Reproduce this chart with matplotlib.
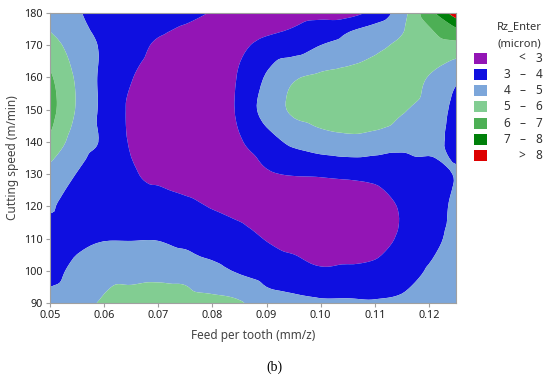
import numpy as np
import matplotlib
matplotlib.use("Agg")
import matplotlib.pyplot as plt
import matplotlib.tri as mtri
from matplotlib.patches import Rectangle

plt.rcParams['font.family'] = ['Noto Sans', 'DejaVu Sans']

# Feed per tooth (mm/z) grid and cutting speed (m/min) grid
feed = [0.050, 0.055, 0.060, 0.065, 0.070, 0.075, 0.080, 0.085,
        0.090, 0.095, 0.100, 0.105, 0.110, 0.115, 0.120, 0.125]
speed = [90, 100, 110, 120, 130, 140, 150, 160, 170, 175, 180]

rz_90  = [4.5, 4.7, 5.1, 5.35, 5.4, 5.35, 5.3, 5.1, 4.4, 4.25, 4.15, 4.15, 4.1, 4.2, 4.55, 4.8]
rz_100 = [3.6, 4.3, 4.7, 4.7, 4.75, 4.7, 4.25, 3.9, 3.6, 3.4, 3.1, 3.15, 3.25, 3.5, 4.1, 4.6]
rz_110 = [3.5, 3.8, 3.95, 3.95, 3.95, 3.7, 3.55, 3.35, 2.95, 2.7, 2.6, 2.55, 2.6, 3.15, 3.6, 4.4]
rz_120 = [4.1, 3.6, 3.5, 3.4, 3.45, 3.2, 2.95, 2.75, 2.5, 2.4, 2.35, 2.3, 2.5, 3.1, 3.45, 4.25]
rz_130 = [4.65, 3.97, 3.5, 3.1, 2.8, 2.6, 2.5, 2.45, 2.9, 3.05, 3.1, 3.2, 3.3, 3.5, 3.6, 4.05]
rz_140 = [5.8, 4.5, 3.86, 2.9, 2.5, 2.3, 2.2, 2.9, 3.6, 4.2, 4.55, 4.7, 4.55, 4.3, 4.3, 3.7]
rz_150 = [6.35, 4.9, 3.75, 2.85, 2.4, 2.2, 2.1, 3.2, 4.4, 5.15, 5.4, 5.6, 5.65, 5.1, 4.6, 3.75]
rz_160 = [6.15, 4.85, 3.75, 3.05, 2.5, 2.3, 2.2, 3.1, 4.1, 4.9, 5.15, 5.3, 5.5, 5.6, 4.95, 4.2]
rz_170 = [5.35, 4.6, 3.83, 3.4, 2.85, 2.6, 2.45, 2.8, 3.3, 3.5, 4.0, 4.3, 4.75, 5.2, 5.6, 5.7]
rz_175 = [4.95, 4.3, 3.7, 3.45, 3.15, 2.9, 2.65, 2.55, 2.8, 3.05, 3.45, 3.85, 4.3, 4.9, 5.9, 6.9]
rz_180 = [4.7, 4.1, 3.65, 3.5, 3.35, 3.25, 2.95, 2.6, 2.7, 2.65, 2.65, 2.6, 3.3, 4.6, 6.6, 8.6]

levels = [0, 3, 4, 5, 6, 7, 8, 20]
legend_left = ["", "3", "4", "5", "6", "7", ""]
legend_mid = ["<", "–", "–", "–", "–", "–", ">"]
legend_right = ["3", "4", "5", "6", "7", "8", "8"]
colors = ["#9315B5", "#0F0FE0", "#7CA6DA", "#82CD92", "#4DAF55", "#00800A", "#DD0000"]

xticks = [0.05, 0.06, 0.07, 0.08, 0.09, 0.10, 0.11, 0.12]
xtick_labels = ["0.05", "0.06", "0.07", "0.08", "0.09", "0.10", "0.11", "0.12"]
yticks = [90, 100, 110, 120, 130, 140, 150, 160, 170, 180]

Z = np.array([rz_90, rz_100, rz_110, rz_120, rz_130, rz_140, rz_150, rz_160,
              rz_170, rz_175, rz_180])
X, Y = np.meshgrid(feed, speed)

# triangulate in normalised coordinates so the library's smooth refiner works well
xs = (X.ravel() - 0.05) / 0.075
ys = (Y.ravel() - 90) / 90.0
tri = mtri.Triangulation(xs, ys)
refiner = mtri.UniformTriRefiner(tri)
interp = mtri.CubicTriInterpolator(tri, Z.ravel(), kind='geom')
tri_f, z_f = refiner.refine_field(Z.ravel(), triinterpolator=interp, subdiv=3)
tri_d = mtri.Triangulation(0.05 + tri_f.x * 0.075, 90 + tri_f.y * 90.0, tri_f.triangles)

fig = plt.figure(figsize=(5.5, 3.87), dpi=100)
ax = fig.add_axes([50/550, 1 - 303/387, (456-50)/550, (303-13)/387])
ax.tricontourf(tri_d, z_f, levels=levels, colors=colors, antialiased=True)
ax.set_xlim(0.05, 0.125)
ax.set_ylim(90, 180)
ax.set_xticks(xticks)
ax.set_xticklabels(xtick_labels)
ax.set_yticks(yticks)
for s in ax.spines.values():
    s.set_color("#A0A0A0")
    s.set_linewidth(0.8)
ax.tick_params(axis='both', colors="#A0A0A0", labelcolor="#222222",
               labelsize=7.8, length=3, width=0.8, pad=2)
ax.set_xlabel("Feed per tooth (mm/z)", fontsize=8.5, color="#444444", labelpad=6)
ax.set_ylabel("Cutting speed (m/min)", fontsize=8.5, color="#444444", labelpad=4)

# legend
fig.text(519/550, 1 - 27/387, "Rz_Enter", ha='center', va='center', fontsize=8, color="#333333")
fig.text(519/550, 1 - 44/387, "(micron)", ha='center', va='center', fontsize=8, color="#333333")
for i, c in enumerate(colors):
    yc = 58 + i * 16.3
    fig.add_artist(Rectangle((474/550, 1 - (yc + 5.5)/387), 13/550, 11/387,
                             transform=fig.transFigure, facecolor=c, edgecolor='none'))
    if legend_left[i]:
        fig.text(507/550, 1 - yc/387, legend_left[i], ha='center', va='center', fontsize=8.5, color="#333333")
    fig.text(522/550, 1 - yc/387, legend_mid[i], ha='center', va='center', fontsize=8.5, color="#333333")
    fig.text(539/550, 1 - yc/387, legend_right[i], ha='center', va='center', fontsize=8.5, color="#333333")

fig.text(274/550, 1 - 367/387, "(b)", ha='center', va='center', fontsize=10,
         family='Liberation Serif', color="#000000")

fig.savefig("out.png", dpi=100)
